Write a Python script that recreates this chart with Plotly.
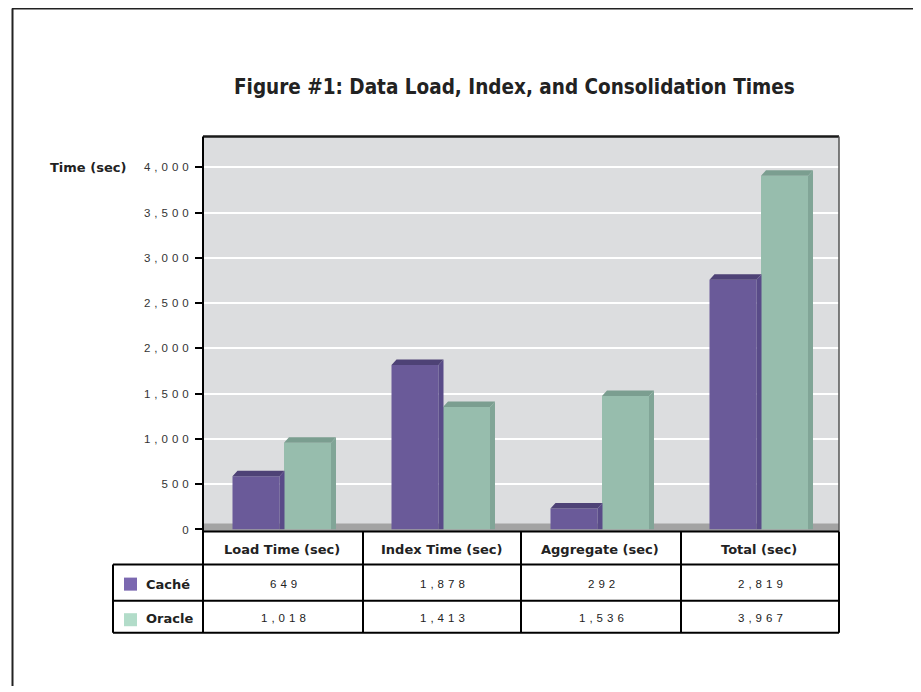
import plotly.graph_objects as go

# ---------------- data ----------------
categories = ["Load Time (sec)", "Index Time (sec)", "Aggregate (sec)", "Total (sec)"]
series_names = ["Caché", "Oracle"]
cache_values = [649, 1878, 292, 2819]
oracle_values = [1018, 1413, 1536, 3967]
y_ticks = [0, 500, 1000, 1500, 2000, 2500, 3000, 3500, 4000]
title_text = "Figure #1: Data Load, Index, and Consolidation Times"
y_title = "Time (sec)"

# ---------------- styling / geometry ----------------
OFF = 8                      # browser body margin
VS = 0.9886                  # vertical compensation of the capture
W, H = 921 - OFF, 700 - 2 * OFF
PL, PR, PT, PB = 203, 839, 136, 528      # plot area (target pixels)
Y_MAX = 4341
X_MIN, X_MAX = -0.5, 3.5
PX_PER_X = (PR - PL) / (X_MAX - X_MIN)
PX_PER_Y = (PB - PT) / Y_MAX

front_cols = ["#6A5A99", "#97BDAD"]
top_cols = ["#4E4276", "#7B9E90"]
side_cols = ["#594B88", "#81A597"]
legend_cols = ["#7B68B0", "#B2DCC9"]

BAR_W = 47 / PX_PER_X
OFFSETS = [-50 / PX_PER_X, 1.5 / PX_PER_X]
DX = 5 / PX_PER_X
DY = 5.5 / PX_PER_Y


def fx(px):
    return (px - OFF) / W


def fy(py):
    return 1 - (py / VS - OFF) / H


def fmt(v):
    return f"{v:,}"


def spaced(s, sp=4):
    return f'<span style="letter-spacing:{sp}px">{s}</span>'


fig = go.Figure()
xs = list(range(len(categories)))
all_vals = [cache_values, oracle_values]

for si, vals in enumerate(all_vals):
    fig.add_trace(go.Bar(
        x=xs, y=[v - DY for v in vals], base=0,
        width=BAR_W, offset=OFFSETS[si],
        marker=dict(color=front_cols[si], line=dict(width=0)),
        name=series_names[si], showlegend=False, hoverinfo="skip",
    ))
    tx, ty = [], []
    sx, sy = [], []
    for i, v in enumerate(vals):
        x0 = xs[i] + OFFSETS[si]
        x1 = x0 + BAR_W
        tx += [x0, x0 + DX, x1 + DX, x1, x0, None]
        ty += [v - DY, v, v, v - DY, v - DY, None]
        sx += [x1, x1 + DX, x1 + DX, x1, x1, None]
        sy += [0, 0, v, v - DY, 0, None]
    fig.add_trace(go.Scatter(x=sx, y=sy, mode="lines", fill="toself",
                             fillcolor=side_cols[si], line=dict(width=0),
                             showlegend=False, hoverinfo="skip"))
    fig.add_trace(go.Scatter(x=tx, y=ty, mode="lines", fill="toself",
                             fillcolor=top_cols[si], line=dict(width=0),
                             showlegend=False, hoverinfo="skip"))

shapes = []
shapes.append(dict(type="rect", xref="paper", yref="paper", layer="below",
                   x0=fx(PL), x1=fx(PR), y0=fy(530), y1=fy(522),
                   fillcolor="#A3A3A3", line=dict(width=0)))


def hline(x0, x1, y, color="#000", w=2):
    shapes.append(dict(type="line", xref="paper", yref="paper",
                       x0=fx(x0), x1=fx(x1), y0=fy(y), y1=fy(y),
                       line=dict(color=color, width=w)))


def vline(x, y0, y1, color="#000", w=2):
    shapes.append(dict(type="line", xref="paper", yref="paper",
                       x0=fx(x), x1=fx(x), y0=fy(y0), y1=min(1, max(0, fy(y1))),
                       line=dict(color=color, width=w)))


# page frame
hline(12, 921, 8.5, "#222", 2)
vline(12.5, 8.5, 692, "#222", 2)
# plot border
hline(PL, PR, PT, "#1a1a1a", 2.5)
vline(PR, PT, 530, "#555", 1.5)
# table
col_edges = [203, 363, 521, 681, 839]
row_edges = [530, 563, 599, 631]
hline(203, 839, 530)
for r in row_edges[1:]:
    hline(113, 839, r)
vline(113, 563, 631)
vline(203, PT, 631)
for c in col_edges[1:-1]:
    vline(c, 530, 631)
vline(839, 530, 631)

leg_y = [(576, 589), (611.5, 624.5)]
for si in range(2):
    shapes.append(dict(type="rect", xref="paper", yref="paper",
                       x0=fx(124), x1=fx(137), y0=fy(leg_y[si][1]), y1=fy(leg_y[si][0]),
                       fillcolor=legend_cols[si], line=dict(width=0)))

annotations = []
BOLD = "DejaVu Sans, Verdana, sans-serif"
REG = "Liberation Sans, Arial, sans-serif"
annotations.append(dict(text=f"<b>{title_text}</b>", xref="paper", yref="paper",
                        x=fx(514), y=fy(87), xanchor="center", yanchor="middle",
                        showarrow=False,
                        font=dict(family="DejaVu Sans Condensed, Liberation Sans Narrow, sans-serif",
                                  size=20.5, color="#222")))
annotations.append(dict(text=f"<b>{y_title}</b>", xref="paper", yref="paper",
                        x=fx(48), y=fy(167), xanchor="left", yanchor="middle",
                        showarrow=False, font=dict(family=BOLD, size=13, color="#222")))
row_centers = [(row_edges[i] + row_edges[i + 1]) / 2 for i in range(3)]
for ci, cat in enumerate(categories):
    cx = (col_edges[ci] + col_edges[ci + 1]) / 2
    annotations.append(dict(text=f"<b>{cat}</b>", xref="paper", yref="paper",
                            x=fx(cx - 1), y=fy(row_centers[0] + 1), xanchor="center", yanchor="middle",
                            showarrow=False, font=dict(family=BOLD, size=13, color="#222")))
    for si, vals in enumerate(all_vals):
        annotations.append(dict(text=spaced(fmt(vals[ci])), xref="paper", yref="paper",
                                x=fx(cx + 2), y=fy(row_centers[si + 1] + 1),
                                xanchor="center", yanchor="middle", showarrow=False,
                                font=dict(family=REG, size=11.5, color="#222")))
for si, nm in enumerate(series_names):
    annotations.append(dict(text=f"<b>{nm}</b>", xref="paper", yref="paper",
                            x=fx(144), y=fy(row_centers[si + 1] + 1.5), xanchor="left", yanchor="middle",
                            showarrow=False, font=dict(family=BOLD, size=13, color="#222")))

fig.update_layout(
    width=W, height=H,
    margin=dict(l=0, r=0, t=0, b=0),
    paper_bgcolor="white",
    plot_bgcolor="#DCDDDF",
    barmode="overlay",
    showlegend=False,
    shapes=shapes,
    annotations=annotations,
    xaxis=dict(domain=[fx(PL), fx(PR)], range=[X_MIN, X_MAX],
               showticklabels=False, showgrid=False, zeroline=False,
               showline=False, ticks="", fixedrange=True),
    yaxis=dict(domain=[fy(PB), fy(PT)], range=[0, Y_MAX],
               tickvals=y_ticks, ticktext=[spaced(fmt(v)) for v in y_ticks],
               ticks="outside", ticklen=7, tickwidth=2, tickcolor="#000",
               tickfont=dict(family=REG, size=11.5, color="#333"),
               showgrid=True, gridcolor="white", gridwidth=2,
               zeroline=False, showline=False, fixedrange=True),
)

fig.write_html("out.html")
